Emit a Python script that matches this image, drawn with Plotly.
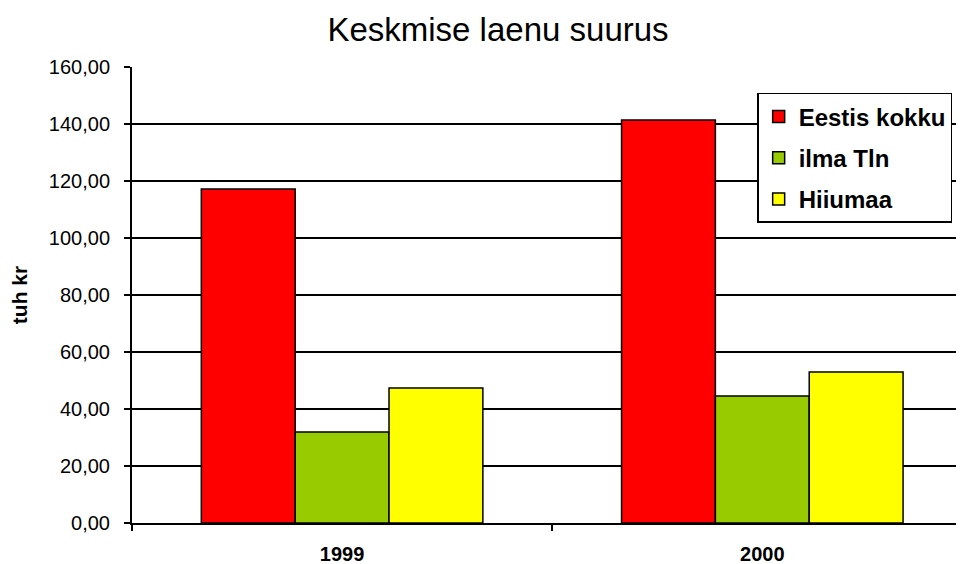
import plotly.graph_objects as go

years = ["1999", "2000"]
series_names = ["Eestis kokku", "ilma Tln", "Hiiumaa"]
eestis_kokku = [117.2, 141.4]
ilma_tln = [31.9, 44.6]
hiiumaa = [47.4, 53.0]
colors = ["#FF0000", "#99CC00", "#FFFF00"]
y_ticks = [0, 20, 40, 60, 80, 100, 120, 140, 160]

FONT = "Liberation Sans, Arial, sans-serif"

# page body has an 8px margin, so the figure is a bit smaller than the window
W, H = 956, 556

fig = go.Figure()
for i, (name, vals) in enumerate(zip(series_names, [eestis_kokku, ilma_tln, hiiumaa])):
    fig.add_trace(go.Bar(
        x=years,
        y=vals,
        name=name,
        legendgroup=name,
        marker=dict(color=colors[i], line=dict(color="black", width=1.5)),
    ))

fig.update_layout(
    width=W,
    height=H,
    paper_bgcolor="white",
    plot_bgcolor="white",
    separators=",.",
    barmode="group",
    bargap=0.33,
    bargroupgap=0,
    margin=dict(l=124, r=0, t=59, b=41, autoexpand=False),
    font=dict(family=FONT, color="black"),
    title=dict(
        text="Keskmise laenu suurus",
        font=dict(size=33, family=FONT, color="black"),
        x=490 / W, xanchor="center",
        y=1 - 21 / H, yanchor="middle", yref="container",
    ),
    legend=dict(
        x=0.7514, xanchor="left",
        y=0.943, yanchor="top",
        bgcolor="white",
        bordercolor="black",
        borderwidth=1.5,
        font=dict(size=24, family=FONT, color="black", weight="bold"),
        tracegroupgap=7,
        itemwidth=30,
    ),
)

fig.update_xaxes(
    range=[-0.5, 1.48],
    automargin=False,
    showline=True, linecolor="black", linewidth=2,
    ticks="outside", tickson="boundaries", ticklen=6, tickcolor="black", tickwidth=1.5,
    ticklabelstandoff=12,
    tickfont=dict(size=20, family=FONT, color="black", weight="bold"),
    showgrid=False,
)
fig.update_yaxes(
    range=[0, 160],
    automargin=False,
    tickvals=y_ticks,
    tickformat=".2f",
    showline=True, linecolor="black", linewidth=2,
    ticks="outside", ticklen=6, tickcolor="black", tickwidth=1.5,
    ticklabelstandoff=10,
    tickfont=dict(size=20, family=FONT, color="black"),
    showgrid=True, gridcolor="black", gridwidth=1.5,
    zeroline=False,
    title=dict(text="tuh kr", font=dict(size=21, family=FONT, color="black", weight="bold"), standoff=24),
)

fig.write_html("out.html")
